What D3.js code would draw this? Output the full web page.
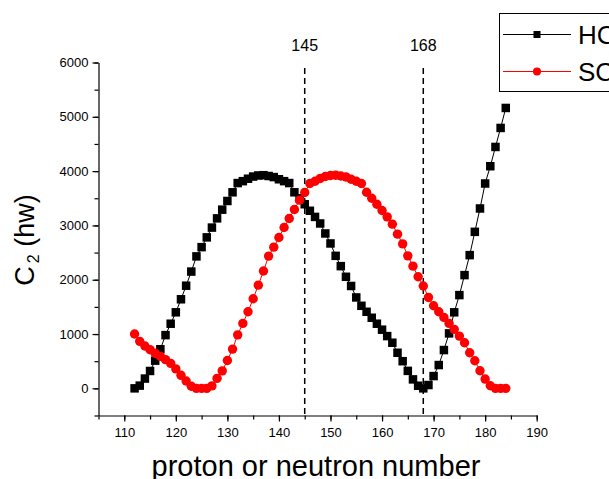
<!DOCTYPE html>
<html>
<head>
<meta charset="utf-8">
<script src="https://cdn.jsdelivr.net/npm/d3@7"></script>
<style>
  body { margin: 0; background: #fff; }
  svg { display: block; font-family: "Liberation Sans", Arial, sans-serif; }
</style>
</head>
<body>
<div id="chart"></div>
<script>
const nucleons = d3.range(112, 185);
const hcValues = [0, 50, 180, 320, 510, 720, 980, 1190, 1400, 1640, 1890, 2150, 2430, 2600,
    2780, 2960, 3130, 3290, 3450, 3610, 3780, 3815, 3860, 3900, 3920, 3925, 3910, 3890, 3850,
    3815, 3780, 3610, 3500, 3390, 3270, 3157, 3036, 2852, 2668, 2440, 2250, 2054, 1885, 1674,
    1520, 1410, 1300, 1190, 1080, 962, 840, 655, 500, 322, 165, 48, 0, 61, 226, 429, 705, 1012,
    1400, 1717, 2085, 2453, 2882, 3312, 3772, 4090, 4445, 4795, 5163];
const scValues = [1000, 865, 780, 712, 645, 590, 528, 460, 358, 240, 135, 38, 0, 0, 0, 45, 184,
    322, 512, 723, 985, 1196, 1410, 1650, 1900, 2160, 2435, 2600, 2778, 2962, 3128, 3294, 3465,
    3606, 3772, 3814, 3864, 3900, 3920, 3925, 3910, 3893, 3851, 3814, 3772, 3610, 3500, 3390,
    3275, 3157, 3023, 2839, 2660, 2440, 2250, 2054, 1885, 1674, 1520, 1410, 1306, 1196, 1086,
    962, 839, 655, 508, 324, 171, 48, 0, 0, 0];
const magicNumbers = [145, 168];
const xTicks = [110, 120, 130, 140, 150, 160, 170, 180, 190];
const yTicks = [0, 1000, 2000, 3000, 4000, 5000, 6000];
const seriesNames = ['HC', 'SC'];

const width = 609, height = 479;

const svg = d3.select('#chart').append('svg')
    .attr('width', width)
    .attr('height', height);

const x = d3.scaleLinear().domain([105, 190]).range([98.5, 536.7]);
const y = d3.scaleLinear().domain([-500, 6000]).range([415.5, 62.5]);

// minor ticks
svg.append('g')
    .attr('transform', `translate(0,${y(-500)})`)
    .call(d3.axisBottom(x).tickValues(d3.range(105, 191, 5)).tickSize(4).tickFormat(''))
    .call(g => g.select('.domain').remove());
svg.append('g')
    .attr('transform', `translate(${x(105)},0)`)
    .call(d3.axisLeft(y).tickValues(d3.range(-500, 6001, 500)).tickSize(4).tickFormat(''))
    .call(g => g.select('.domain').remove());

const xAxis = svg.append('g')
    .attr('transform', `translate(0,${y(-500)})`)
    .call(d3.axisBottom(x).tickValues(xTicks).tickSize(6).tickSizeOuter(0).tickPadding(6)
        .tickFormat(d3.format('d')));
const yAxis = svg.append('g')
    .attr('transform', `translate(${x(105)},0)`)
    .call(d3.axisLeft(y).tickValues(yTicks).tickSize(6).tickSizeOuter(0).tickPadding(4)
        .tickFormat(d3.format('d')));

[xAxis, yAxis].forEach(g => {
    g.selectAll('text').attr('font-size', 13).attr('fill', '#000')
        .attr('font-family', '"Liberation Sans", Arial, sans-serif');
    g.selectAll('line, path').attr('stroke', '#000').attr('stroke-width', 1.2);
});
svg.selectAll('.tick line').attr('stroke', '#000').attr('stroke-width', 1.2);

// dashed magic number lines
magicNumbers.forEach(m => {
    svg.append('line')
        .attr('x1', x(m)).attr('x2', x(m))
        .attr('y1', 68).attr('y2', y(-500))
        .attr('stroke', '#000')
        .attr('stroke-width', 1.5)
        .attr('stroke-dasharray', '6,4');
    svg.append('text')
        .attr('x', x(m)).attr('y', 51)
        .attr('text-anchor', 'middle')
        .attr('font-size', 16)
        .text(m);
});

const line = d3.line().x(d => x(d[0])).y(d => y(d[1]));

const hc = nucleons.map((n, i) => [n, hcValues[i]]);
const sc = nucleons.map((n, i) => [n, scValues[i]]);

svg.append('path').datum(hc).attr('d', line)
    .attr('fill', 'none').attr('stroke', '#000').attr('stroke-width', 1);
svg.append('path').datum(sc).attr('d', line)
    .attr('fill', 'none').attr('stroke', '#ff0000').attr('stroke-width', 1);

const sq = 8.5;
svg.append('g').selectAll('rect').data(hc).join('rect')
    .attr('x', d => x(d[0]) - sq / 2)
    .attr('y', d => y(d[1]) - sq / 2)
    .attr('width', sq).attr('height', sq)
    .attr('fill', '#000');

svg.append('g').selectAll('circle').data(sc).join('circle')
    .attr('cx', d => x(d[0]))
    .attr('cy', d => y(d[1]))
    .attr('r', 4.7)
    .attr('fill', '#ff0000');

// axis titles
const yTitle = svg.append('text')
    .attr('transform', 'translate(34,240) rotate(-90)')
    .attr('text-anchor', 'middle')
    .attr('font-size', 27);
yTitle.append('tspan').text('C');
yTitle.append('tspan').attr('font-size', 16).attr('dx', 3).attr('dy', 5).text('2');
yTitle.append('tspan').attr('dy', -5).text('\u00a0(hw)');

svg.append('text')
    .attr('x', 316).attr('y', 476)
    .attr('text-anchor', 'middle')
    .attr('font-size', 29)
    .text('proton or neutron number');

// legend
svg.append('rect')
    .attr('x', 499.5).attr('y', 13.5)
    .attr('width', 130).attr('height', 78)
    .attr('fill', '#fff').attr('stroke', '#000').attr('stroke-width', 1);

const legendRows = [
    { name: seriesNames[0], color: '#000', y: 34.5, shape: 'square' },
    { name: seriesNames[1], color: '#ff0000', y: 71.5, shape: 'circle' }
];
legendRows.forEach(r => {
    svg.append('line')
        .attr('x1', 503).attr('x2', 571)
        .attr('y1', r.y).attr('y2', r.y)
        .attr('stroke', r.color).attr('stroke-width', 1);
    if (r.shape === 'square') {
        svg.append('rect').attr('x', 537 - 3.5).attr('y', r.y - 3.5)
            .attr('width', 7).attr('height', 7).attr('fill', r.color);
    } else {
        svg.append('circle').attr('cx', 537).attr('cy', r.y).attr('r', 4)
            .attr('fill', r.color);
    }
    svg.append('text')
        .attr('x', 578).attr('y', r.y + 9.5)
        .attr('font-size', 26)
        .text(r.name);
});
</script>
</body>
</html>
